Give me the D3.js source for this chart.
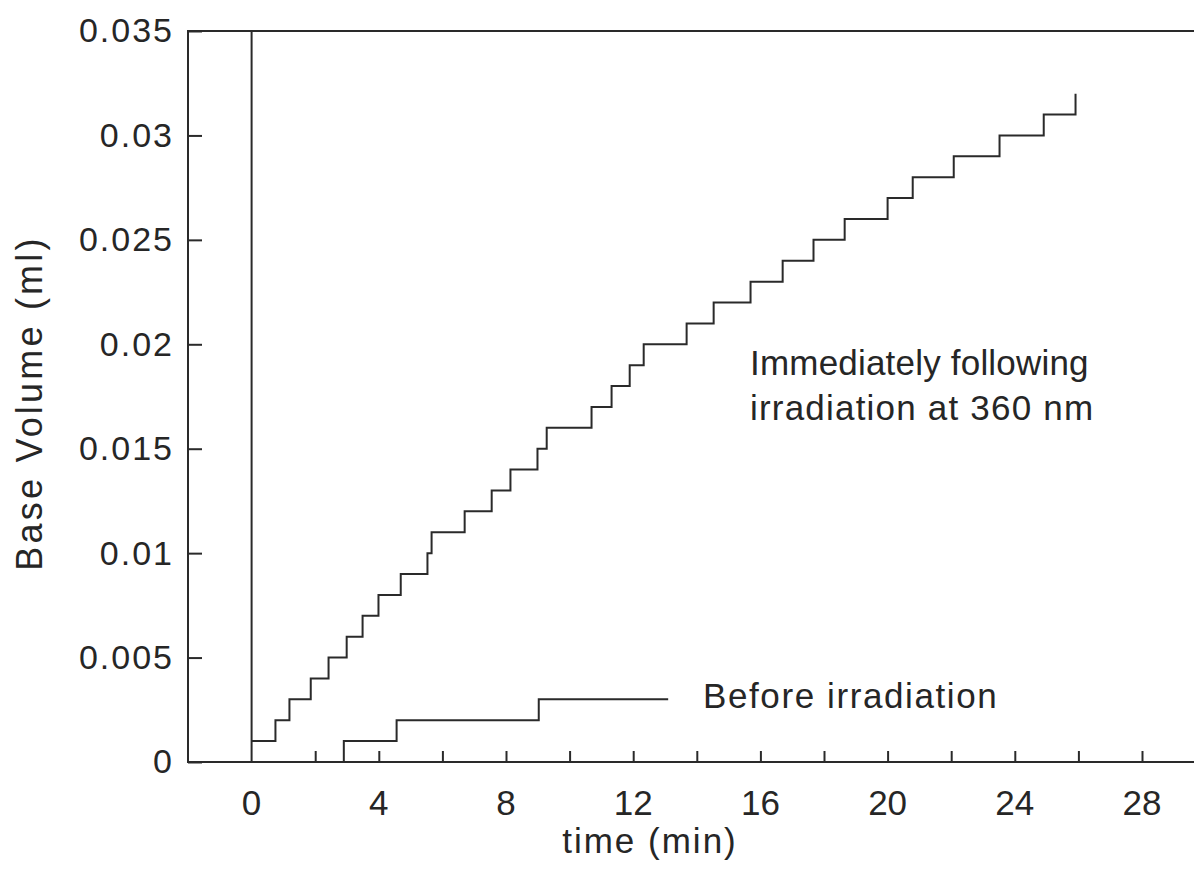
<!DOCTYPE html>
<html lang="en">
<head>
<meta charset="UTF-8">
<title>Base Volume vs time</title>
<script src="https://d3js.org/d3.v7.min.js"></script>
<style>
    body {
        margin: 0;
        background: #ffffff;
        overflow: hidden;
    }
    svg text {
        font-family: "Liberation Sans", Arial, Helvetica, sans-serif;
        fill: #262626;
    }
    .axis path, .axis line {
        stroke: #2a2a2a;
        stroke-width: 2;
    }
</style>
</head>
<body>
<div id="chart"></div>
<script>
// data
const irradiatedTimes = [0, 0.75, 1.19, 1.86, 2.42, 2.99, 3.49, 3.99, 4.69, 5.53, 5.66, 6.70, 7.55, 8.14, 8.99, 9.28,
    10.69, 11.32, 11.89, 12.33, 13.68, 14.53, 15.69, 16.70, 17.67, 18.65, 20.00, 20.79, 22.08, 23.52, 24.91, 25.91];
const irradiatedVolumes = [0.001, 0.002, 0.003, 0.004, 0.005, 0.006, 0.007, 0.008, 0.009, 0.010, 0.011, 0.012, 0.013, 0.014, 0.015, 0.016,
    0.017, 0.018, 0.019, 0.020, 0.021, 0.022, 0.023, 0.024, 0.025, 0.026, 0.027, 0.028, 0.029, 0.030, 0.031, 0.032];

const beforeTimes = [2.8, 2.9, 4.56, 9.03, 13.1];
const beforeVolumes = [0, 0.001, 0.002, 0.003, 0.003];

const xTickValues = [2, 4, 6, 8, 10, 12, 14, 16, 18, 20, 22, 24, 26, 28, 30];
const xLabelValues = [0, 4, 8, 12, 16, 20, 24, 28];
const yTickValues = [0, 0.005, 0.01, 0.015, 0.02, 0.025, 0.03, 0.035];
const yTickLabels = ["0", "0.005", "0.01", "0.015", "0.02", "0.025", "0.03", "0.035"];

const width = 1194;
const height = 873;

const svg = d3.select("#chart")
    .append("svg")
    .attr("width", width)
    .attr("height", height);

const x = d3.scaleLinear().domain([-2, 30]).range([188, 1205.6]);
const y = d3.scaleLinear().domain([0, 0.035]).range([762, 31]);

// frame (right side runs off the page like the scan)
svg.append("rect")
    .attr("x", x(-2))
    .attr("y", y(0.035))
    .attr("width", x(30) - x(-2))
    .attr("height", y(0) - y(0.035))
    .attr("fill", "none")
    .attr("stroke", "#2a2a2a")
    .attr("stroke-width", 2);

// x axis: inward ticks every 2, labels every 4
const xAxis = svg.append("g")
    .attr("class", "axis")
    .attr("transform", `translate(0,${y(0)})`)
    .call(d3.axisBottom(x).tickValues(xTickValues).tickSize(-11).tickFormat(""));
xAxis.select(".domain").remove();

svg.append("g")
    .selectAll("text")
    .data(xLabelValues)
    .join("text")
    .attr("x", d => x(d))
    .attr("y", y(0) + 53)
    .attr("text-anchor", "middle")
    .attr("font-size", 35)
    .text(d => d);

// y axis
const yAxis = svg.append("g")
    .attr("class", "axis")
    .attr("transform", `translate(${x(-2)},0)`)
    .call(d3.axisLeft(y).tickValues(yTickValues).tickSize(-14).tickPadding(14)
        .tickFormat((d, i) => yTickLabels[i]));
yAxis.select(".domain").remove();
yAxis.selectAll("text")
    .attr("font-size", 34)
    .attr("letter-spacing", 2)
    .attr("fill", "#262626");

// vertical line at t = 0
svg.append("line")
    .attr("x1", x(0)).attr("x2", x(0))
    .attr("y1", y(0)).attr("y2", y(0.035))
    .attr("stroke", "#2a2a2a")
    .attr("stroke-width", 2);

// step curves
const stepLine = d3.line()
    .x(d => x(d[0]))
    .y(d => y(d[1]))
    .curve(d3.curveStepAfter);

svg.append("path")
    .datum(d3.zip(irradiatedTimes, irradiatedVolumes))
    .attr("fill", "none")
    .attr("stroke", "#2a2a2a")
    .attr("stroke-width", 2)
    .attr("d", stepLine);

svg.append("path")
    .datum(d3.zip(beforeTimes, beforeVolumes))
    .attr("fill", "none")
    .attr("stroke", "#2a2a2a")
    .attr("stroke-width", 2)
    .attr("d", stepLine);

// annotations
svg.append("text")
    .attr("x", 750)
    .attr("y", 375)
    .attr("font-size", 35)
    .attr("letter-spacing", 0.2)
    .text("Immediately following");

svg.append("text")
    .attr("x", 750)
    .attr("y", 420)
    .attr("font-size", 35)
    .attr("letter-spacing", 1.2)
    .text("irradiation at 360 nm");

svg.append("text")
    .attr("x", 703)
    .attr("y", 708)
    .attr("font-size", 35)
    .attr("letter-spacing", 1.6)
    .text("Before irradiation");

// axis titles
svg.append("text")
    .attr("x", 650)
    .attr("y", 853)
    .attr("text-anchor", "middle")
    .attr("font-size", 35)
    .attr("letter-spacing", 2)
    .text("time (min)");

svg.append("text")
    .attr("transform", "translate(42,403) rotate(-90)")
    .attr("text-anchor", "middle")
    .attr("font-size", 36)
    .attr("letter-spacing", 3.2)
    .text("Base Volume (ml)");
</script>
</body>
</html>
